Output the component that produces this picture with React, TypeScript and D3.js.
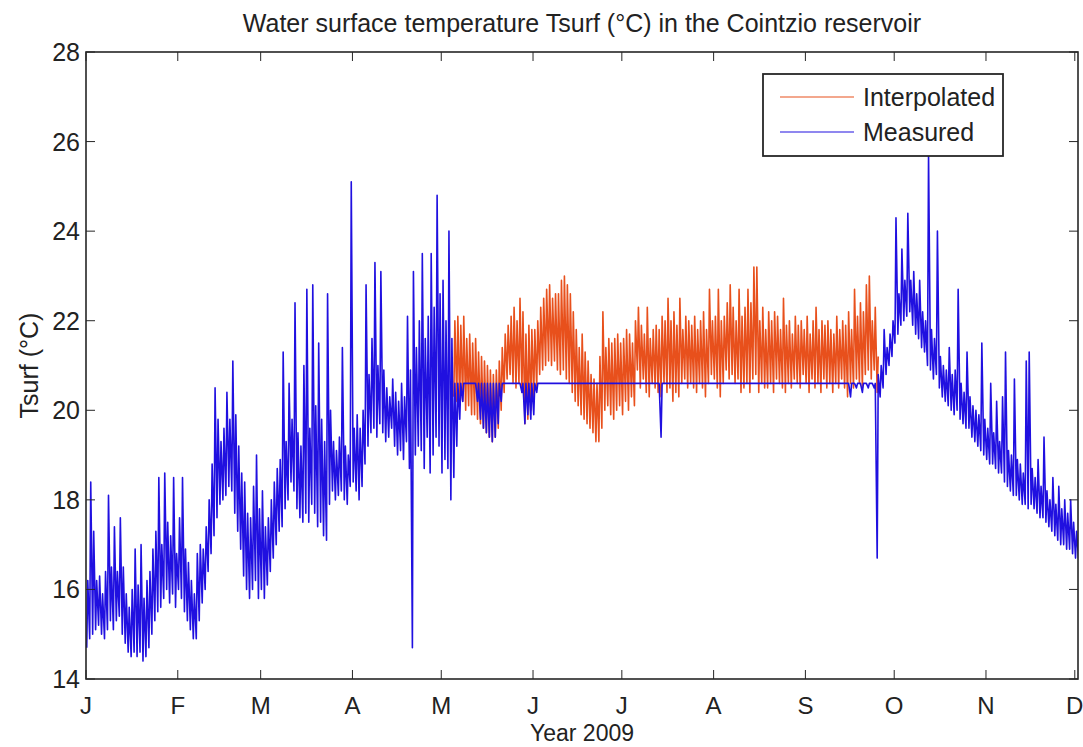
import React from "react";
import * as d3 from "d3";

const monthLabels = ["J", "F", "M", "A", "M", "J", "J", "A", "S", "O", "N", "D"];
const yTickValues = [14, 16, 18, 20, 22, 24, 26, 28];
const titleText = "Water surface temperature Tsurf (°C) in the Cointzio reservoir";
const xAxisLabel = "Year 2009";
const yAxisLabel = "Tsurf (°C)";
const seriesNames = ["Interpolated", "Measured"];

// Measured Tsurf, daily [low, high] pairs starting Jan 1 2009
const measJan = [
  14.7, 16.2, 14.9, 18.4, 15.0, 17.3, 15.1, 16.2, 15.2, 16.3, 15.0, 15.9, 14.9, 16.4, 15.1, 18.1,
  15.3, 16.5, 15.1, 17.4, 15.3, 16.4, 15.4, 17.6, 15.0, 16.5, 14.8, 15.9, 14.6, 15.6, 14.5, 16.0,
  14.6, 16.9, 14.5, 16.1, 14.6, 17.0, 14.4, 15.8, 14.5, 16.2, 14.7, 16.4, 15.0, 16.9, 15.3, 17.3,
  15.5, 18.5, 15.6, 17.0, 15.8, 18.6, 16.0, 17.5, 15.7, 17.2, 15.9, 18.5, 15.6, 16.8,
];
const measFeb = [
  16.0, 17.6, 15.8, 18.5, 15.5, 16.9, 15.3, 16.6, 15.1, 16.2, 14.9, 15.9, 14.9, 16.8, 15.3, 17.0,
  15.7, 16.9, 16.0, 17.4, 16.4, 18.0, 16.8, 18.8, 17.2, 20.5, 17.6, 19.8, 17.9, 19.3, 18.0, 19.6,
  18.1, 20.4, 18.3, 19.8, 18.2, 21.1, 17.7, 19.9, 17.3, 19.2, 16.9, 18.6, 16.3, 18.4, 16.0, 17.7,
  15.8, 17.6, 16.0, 18.3, 16.2, 19.0, 15.8, 17.8,
];
const measMar = [
  16.0, 18.2, 15.8, 17.4, 16.1, 17.6, 16.4, 18.0, 16.7, 18.4, 17.0, 18.7, 17.3, 18.9, 17.4, 21.3,
  17.8, 19.3, 18.0, 20.6, 18.4, 19.8, 18.2, 22.4, 17.8, 19.5, 17.6, 19.2, 17.5, 21.0, 17.7, 22.7,
  17.5, 19.6, 17.9, 22.8, 17.7, 20.1, 17.4, 21.5, 17.5, 19.8, 17.2, 19.3, 17.1, 22.6, 17.9, 20.0,
  18.2, 19.3, 18.0, 19.1, 18.1, 19.4, 18.2, 21.4, 18.0, 19.2, 17.9, 19.0, 18.3, 25.1,
];
const measApr = [
  18.4, 19.6, 18.2, 19.9, 18.0, 19.6, 18.3, 20.0, 18.8, 22.8, 19.2, 20.8, 19.5, 21.6, 19.6, 23.3,
  19.4, 21.0, 19.7, 23.1, 19.5, 20.9, 19.3, 20.5, 19.4, 20.3, 19.6, 20.7, 19.2, 20.4, 19.0, 20.2,
  19.1, 20.6, 18.9, 20.3, 19.3, 22.1, 18.7, 20.9, 14.7, 23.1, 19.0, 21.4, 19.2, 22.0, 19.1, 23.5,
  18.7, 21.6, 19.4, 22.1, 18.6, 23.5, 19.0, 22.3, 19.4, 24.8, 19.2, 22.6,
];
const measMay = [
  18.6, 22.9, 18.9, 22.0, 18.7, 24.0, 18.0, 21.6, 18.5, 20.6, 19.2, 20.6, 19.8, 20.6, 20.2, 20.6,
  20.6, 20.6, 20.6, 20.6, 20.6, 20.6, 20.6, 20.6, 20.2, 20.6, 19.8, 20.6, 19.6, 20.6, 19.5, 20.6,
  19.4, 20.6, 19.3, 20.6, 19.4, 20.6, 19.7, 20.6, 20.2, 20.6, 20.6, 20.6, 20.6, 20.6, 20.6, 20.6,
  20.6, 20.6, 20.6, 20.6, 20.6, 20.6, 20.4, 20.6, 19.7, 20.6, 19.9, 20.6, 19.8, 20.6,
];
const measJun = [
  19.9, 20.6, 20.4, 20.6, 20.6, 20.6, 20.6, 20.6, 20.6, 20.6, 20.6, 20.6, 20.6, 20.6, 20.6, 20.6,
  20.6, 20.6, 20.6, 20.6, 20.6, 20.6, 20.6, 20.6, 20.6, 20.6, 20.6, 20.6, 20.6, 20.6, 20.6, 20.6,
  20.6, 20.6, 20.6, 20.6, 20.6, 20.6, 20.6, 20.6, 20.6, 20.6, 20.6, 20.6, 20.6, 20.6, 20.6, 20.6,
  20.6, 20.6, 20.6, 20.6, 20.6, 20.6, 20.6, 20.6, 20.6, 20.6, 20.6, 20.6,
];
const measJul = [
  20.6, 20.6, 20.6, 20.6, 20.6, 20.6, 20.6, 20.6, 20.6, 20.6, 20.6, 20.6, 20.6, 20.6, 20.6, 20.6,
  20.6, 20.6, 20.6, 20.6, 20.6, 20.6, 20.6, 20.6, 20.6, 20.6, 19.4, 20.6, 20.6, 20.6, 20.6, 20.6,
  20.6, 20.6, 20.6, 20.6, 20.6, 20.6, 20.6, 20.6, 20.6, 20.6, 20.6, 20.6, 20.6, 20.6, 20.6, 20.6,
  20.6, 20.6, 20.6, 20.6, 20.6, 20.6, 20.6, 20.6, 20.6, 20.6, 20.6, 20.6, 20.6, 20.6,
];
const measAug = [
  20.6, 20.6, 20.6, 20.6, 20.6, 20.6, 20.6, 20.6, 20.6, 20.6, 20.6, 20.6, 20.6, 20.6, 20.6, 20.6,
  20.6, 20.6, 20.6, 20.6, 20.6, 20.6, 20.6, 20.6, 20.6, 20.6, 20.6, 20.6, 20.6, 20.6, 20.6, 20.6,
  20.6, 20.6, 20.6, 20.6, 20.6, 20.6, 20.6, 20.6, 20.6, 20.6, 20.6, 20.6, 20.6, 20.6, 20.6, 20.6,
  20.6, 20.6, 20.6, 20.6, 20.6, 20.6, 20.6, 20.6, 20.6, 20.6, 20.6, 20.6, 20.6, 20.6,
];
const measSep = [
  20.6, 20.6, 20.6, 20.6, 20.6, 20.6, 20.6, 20.6, 20.6, 20.6, 20.6, 20.6, 20.6, 20.6, 20.6, 20.6,
  20.6, 20.6, 20.6, 20.6, 20.6, 20.6, 20.6, 20.6, 20.6, 20.6, 20.6, 20.6, 20.6, 20.6, 20.3, 20.6,
  20.6, 20.6, 20.5, 20.6, 20.6, 20.6, 20.4, 20.6, 20.6, 20.6, 20.5, 20.6, 20.6, 20.6, 20.5, 20.6,
  16.7, 20.8, 20.3, 21.0, 20.5, 21.8, 20.8, 21.4, 21.0, 21.7, 21.2, 22.0,
];
const measOct = [
  21.5, 24.3, 21.7, 22.6, 21.9, 23.6, 22.0, 22.9, 22.1, 24.4, 22.2, 22.9, 21.9, 23.1, 21.7, 22.6,
  21.6, 22.9, 21.4, 22.2, 21.3, 22.0, 21.0, 25.7, 20.9, 21.8, 20.7, 21.6, 20.8, 24.0, 20.5, 21.2,
  20.3, 21.0, 20.2, 20.9, 20.1, 21.4, 20.0, 20.8, 19.9, 20.9, 20.0, 22.7, 19.8, 20.6, 19.7, 20.4,
  19.6, 21.3, 19.6, 20.3, 19.4, 20.1, 19.3, 20.0, 19.2, 19.9, 19.1, 21.5, 19.0, 19.8,
];
const measNov = [
  18.9, 19.6, 18.8, 20.6, 18.8, 19.5, 18.7, 20.2, 18.6, 19.3, 18.6, 20.3, 18.4, 21.3, 18.3, 19.1,
  18.2, 19.0, 18.1, 20.7, 18.1, 18.9, 18.0, 18.8, 17.9, 18.6, 17.9, 21.1, 17.8, 21.3, 17.9, 18.7,
  17.8, 18.5, 17.7, 18.9, 17.6, 18.3, 17.6, 19.4, 17.5, 18.2, 17.4, 18.0, 17.3, 18.5, 17.2, 17.9,
  17.1, 18.3, 17.0, 17.8, 17.0, 18.0, 16.9, 17.7, 16.9, 18.0, 16.8, 17.5,
];
const measDec = [16.7, 17.3, 16.7, 17.0];

// Interpolated Tsurf, daily [low, high] pairs starting May 5 2009 (day 124)
const interpStartDay = 124;
const interpMay = [
  20.3, 22.0, 20.2, 22.1, 20.1, 21.9, 20.2, 22.1, 20.0, 21.6, 20.1, 21.7, 19.9, 21.5, 19.9, 21.6,
  19.8, 21.3, 19.7, 21.2, 19.6, 21.1, 19.5, 21.0, 19.4, 20.9, 19.3, 20.8, 19.4, 20.9, 19.6, 21.1,
  20.0, 21.4, 20.4, 21.7, 20.7, 21.9, 20.8, 22.1, 20.6, 22.3, 20.5, 22.0, 20.6, 22.5, 20.4, 22.2,
  19.7, 21.7, 19.8, 21.9, 20.0, 21.8,
];
const interpJun = [
  20.3, 21.8, 20.5, 22.0, 20.8, 22.3, 20.9, 22.5, 21.0, 22.7, 21.1, 22.8, 21.0, 22.5, 21.1, 22.6,
  20.9, 22.6, 20.8, 22.9, 20.9, 23.0, 20.7, 22.8, 20.6, 22.6, 20.4, 22.2, 20.2, 21.8, 20.1, 21.4,
  19.9, 21.7, 19.8, 21.3, 19.7, 21.1, 19.6, 20.8, 19.5, 20.7, 19.3, 20.6, 19.3, 21.2, 19.6, 22.2,
  20.0, 21.4, 20.1, 21.6, 19.9, 21.5, 19.8, 21.6, 20.0, 21.7, 20.1, 21.5,
];
const interpJul = [
  19.9, 21.6, 20.2, 21.8, 20.0, 21.7, 20.3, 21.5, 20.1, 22.0, 20.9, 22.3, 20.5, 21.9, 20.7, 21.7,
  20.4, 22.3, 20.3, 21.6, 20.6, 21.8, 20.5, 21.9, 20.4, 21.8, 20.3, 22.1, 20.6, 22.0, 20.4, 22.5,
  20.5, 22.0, 20.2, 22.2, 20.4, 21.9, 20.3, 22.5, 20.6, 21.8, 20.7, 22.1, 20.5, 22.0, 20.6, 21.9,
  20.5, 22.1, 20.4, 21.8, 20.6, 22.0, 20.5, 22.2, 20.3, 21.8, 20.6, 22.7, 20.8, 22.0,
];
const interpAug = [
  20.7, 22.1, 20.5, 22.7, 20.3, 22.0, 20.6, 22.1, 20.9, 22.4, 20.7, 22.8, 20.8, 22.3, 20.6, 22.0,
  20.7, 22.7, 20.4, 22.1, 20.5, 22.3, 20.6, 22.7, 20.4, 22.4, 20.7, 23.2, 20.8, 23.2, 20.4, 22.0,
  20.6, 22.3, 20.5, 21.8, 20.5, 22.2, 20.6, 22.0, 20.4, 22.2, 20.7, 22.1, 20.6, 21.8, 20.5, 22.5,
  20.4, 21.9, 20.6, 22.0, 20.5, 21.7, 20.7, 22.1, 20.6, 21.9, 20.5, 22.0, 20.8, 21.8,
];
const interpSep = [
  20.6, 22.1, 20.4, 21.7, 20.7, 22.0, 20.5, 22.3, 20.6, 21.8, 20.4, 22.0, 20.7, 21.9, 20.5, 22.0,
  20.6, 21.8, 20.4, 21.7, 20.6, 22.1, 20.5, 21.8, 20.7, 22.0, 20.5, 21.9, 20.3, 22.2, 20.6, 21.8,
  20.5, 22.7, 20.7, 22.1, 20.6, 22.4, 20.5, 22.2, 20.8, 22.8, 20.9, 23.0, 20.7, 22.0, 20.9, 22.3,
  20.4, 21.2,
];

const measuredMonths = [measJan, measFeb, measMar, measApr, measMay, measJun, measJul, measAug, measSep, measOct, measNov, measDec];
const interpMonths = [interpMay, interpJun, interpJul, interpAug, interpSep];

const seriesColors = { interp: "#e8501c", meas: "#2010e0" };

const W = 1083;
const H = 747;
const plot = { left: 86, right: 1078, top: 52, bottom: 679 };
const FONT = "'Liberation Sans', Arial, Helvetica, sans-serif";
const DAY_MS = 864e5;
const T0 = Date.UTC(2009, 0, 1);

function toPoints(months: number[][], startDay: number): [Date, number][] {
  const flat = months.flat();
  const pts: [Date, number][] = [];
  for (let i = 0; i < flat.length; i += 2) {
    const day = startDay + i / 2;
    pts.push([new Date(T0 + (day + 0.25) * DAY_MS), flat[i]]);
    pts.push([new Date(T0 + (day + 0.6) * DAY_MS), flat[i + 1]]);
  }
  return pts;
}

export default function App() {
  const x = d3
    .scaleUtc()
    .domain([new Date(T0), new Date(Date.UTC(2009, 11, 2, 2))])
    .range([plot.left, plot.right]);
  const y = d3.scaleLinear().domain([14, 28]).range([plot.bottom, plot.top]);

  const line = d3
    .line<[Date, number]>()
    .x((d) => x(d[0]))
    .y((d) => y(d[1]));

  const measPts = toPoints(measuredMonths, 0);
  const interpPts = toPoints(interpMonths, interpStartDay);

  const monthTicks = d3.utcMonth.range(new Date(T0), new Date(Date.UTC(2009, 11, 2)));
  const tickLen = 9;
  const axisColor = "#262626";
  const fontSize = 25;

  const legend = { x: 763, y: 74, w: 240, h: 82 };

  return (
    <svg
      width={W}
      height={H}
      style={{ position: "absolute", left: 0, top: 0, background: "#fff" }}
      fontFamily={FONT}
    >
      <defs>
        <clipPath id="plotClip">
          <rect x={plot.left} y={plot.top} width={plot.right - plot.left} height={plot.bottom - plot.top} />
        </clipPath>
      </defs>
      <rect x={0} y={0} width={W} height={H} fill="#fff" />

      <text x={(plot.left + plot.right) / 2} y={32} textAnchor="middle" fontSize={25} fill="#222">
        {titleText}
      </text>

      <g clipPath="url(#plotClip)">
        <path d={line(interpPts) ?? ""} fill="none" stroke={seriesColors.interp} strokeWidth={1.6} strokeLinejoin="round" />
        <path d={line(measPts) ?? ""} fill="none" stroke={seriesColors.meas} strokeWidth={1.6} strokeLinejoin="round" />
      </g>

      {/* axes box */}
      <rect
        x={plot.left}
        y={plot.top}
        width={plot.right - plot.left}
        height={plot.bottom - plot.top}
        fill="none"
        stroke={axisColor}
        strokeWidth={1.6}
      />

      {/* x ticks */}
      {monthTicks.map((d, i) => {
        const px = x(d);
        return (
          <g key={"xt" + i}>
            <line x1={px} x2={px} y1={plot.bottom} y2={plot.bottom - tickLen} stroke={axisColor} strokeWidth={1} />
            <line x1={px} x2={px} y1={plot.top} y2={plot.top + tickLen} stroke={axisColor} strokeWidth={1} />
            <text x={px} y={714} textAnchor="middle" fontSize={24} fill="#222">
              {monthLabels[d.getUTCMonth()]}
            </text>
          </g>
        );
      })}

      {/* y ticks */}
      {yTickValues.map((v) => {
        const py = y(v);
        return (
          <g key={"yt" + v}>
            <line x1={plot.left} x2={plot.left + tickLen} y1={py} y2={py} stroke={axisColor} strokeWidth={1} />
            <line x1={plot.right} x2={plot.right - tickLen} y1={py} y2={py} stroke={axisColor} strokeWidth={1} />
            <text x={80} y={py + 9} textAnchor="end" fontSize={fontSize} fill="#222">
              {v}
            </text>
          </g>
        );
      })}

      <text x={(plot.left + plot.right) / 2} y={741} textAnchor="middle" fontSize={23} fill="#222">
        {xAxisLabel}
      </text>
      <text
        transform={`translate(38, ${(plot.top + plot.bottom) / 2}) rotate(-90)`}
        textAnchor="middle"
        fontSize={fontSize}
        fill="#222"
      >
        {yAxisLabel}
      </text>

      {/* legend */}
      <g>
        <rect x={legend.x} y={legend.y} width={legend.w} height={legend.h} fill="#fff" stroke={axisColor} strokeWidth={1.8} />
        {seriesNames.map((name, i) => {
          const ly = legend.y + 23 + i * 35;
          const color = i === 0 ? seriesColors.interp : seriesColors.meas;
          return (
            <g key={name}>
              <line x1={legend.x + 17} x2={legend.x + 91} y1={ly} y2={ly} stroke={color} strokeWidth={1.1} />
              <text x={legend.x + 100} y={ly + 9} fontSize={fontSize} fill="#222">
                {name}
              </text>
            </g>
          );
        })}
      </g>
    </svg>
  );
}
